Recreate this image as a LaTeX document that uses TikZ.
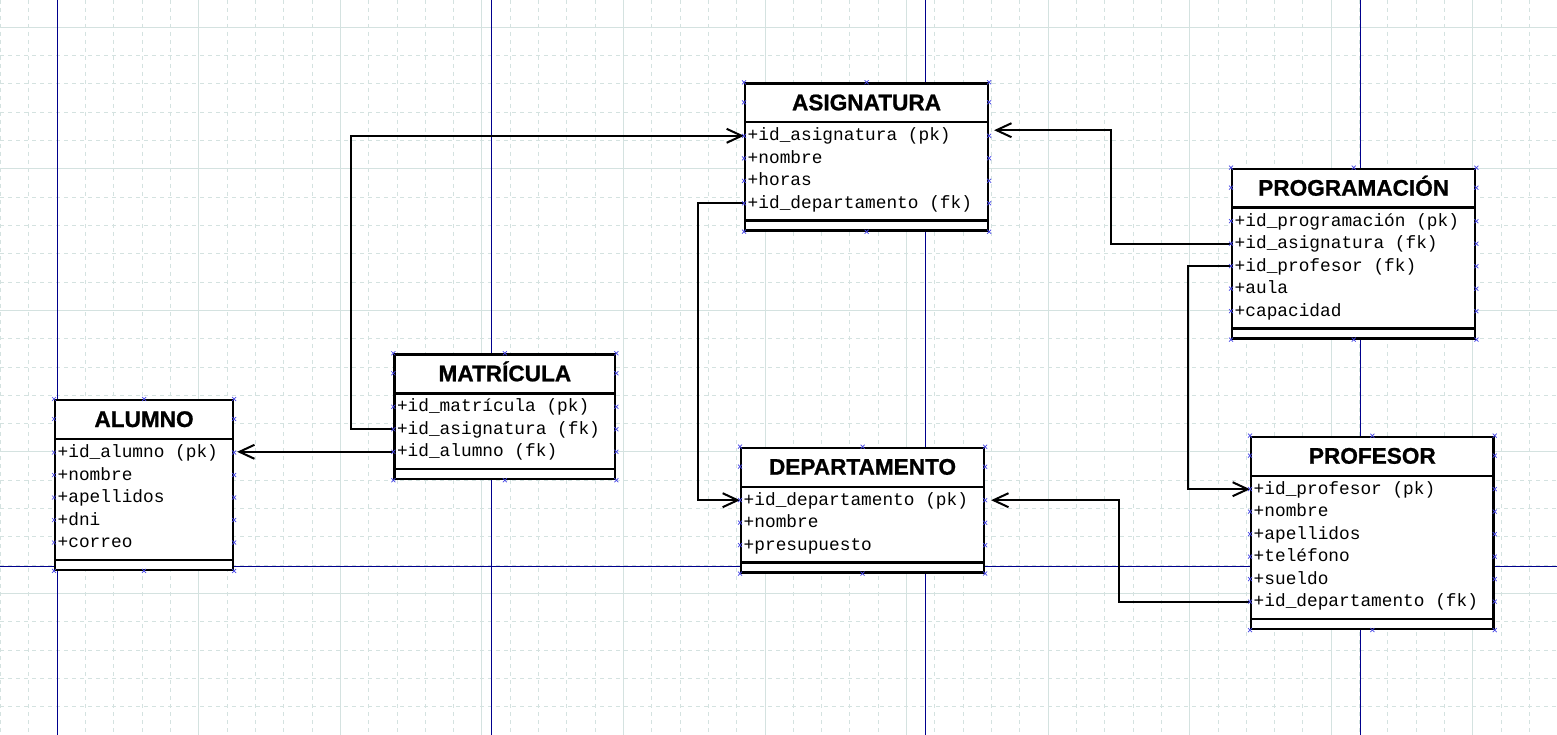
\documentclass[tikz,border=0pt]{standalone}
\usepackage{fontspec}
\usepackage{xcolor}
\usepackage{tikz}
\usetikzlibrary{arrows.meta}
\newfontfamily\titlefamily{Liberation Sans}[BoldFeatures={FakeBold=0.9}]
\newfontfamily\monofamily{Liberation Mono}
\definecolor{gridline}{RGB}{212,226,224}
\definecolor{pageline}{RGB}{0,0,140}
\definecolor{handle}{RGB}{70,70,230}

\begin{document}
\begin{tikzpicture}[x=1pt,y=-1pt,
	minor/.style={gridline,line width=1pt,dash pattern=on 4pt off 4pt},
	major/.style={gridline,line width=1pt},
	page/.style={pageline,line width=1pt},
	box/.style={draw,fill=white,line width=2.4pt,anchor=north west,inner sep=0pt},
	sep/.style={line width=2.4pt},
	head/.style={font=\titlefamily\bfseries\fontsize{22.6}{26}\selectfont,anchor=base,inner sep=0pt},
	attr/.style={font=\monofamily\fontsize{17.8}{20}\selectfont,anchor=west,inner xsep=3.5pt,inner ysep=0pt,text height=12pt,text depth=2pt},
	link/.style={line width=2pt,-{Straight Barb[length=15pt,width=14pt]}},
	hdl/.style={handle,line width=0.7pt}]
\useasboundingbox (0,0) rectangle (1557,735);
\fill[white] (0,0) rectangle (1557,735);

% grid
\foreach \a in {0,...,54}{
	\draw[minor] (0.68+28.31*\a,0)--(0.68+28.31*\a,735);
}
\foreach \a in {0,...,24}{
	\draw[minor] (0,27.3+28.31*\a)--(1557,27.3+28.31*\a);
}
\foreach \a in {0,...,10}{
	\draw[major] (57.3+141.55*\a,0)--(57.3+141.55*\a,735);
}
\foreach \a in {0,...,4}{
	\draw[major] (0,27.3+141.55*\a)--(1557,27.3+141.55*\a);
}

% page borders
\foreach \a in {57.5,491.5,925.5,1360.5}{
	\draw[page] (\a,0)--(\a,735);
}
\draw[page] (0,566.5)--(1557,566.5);

% ASIGNATURA
\node[box,minimum width=242.7pt,minimum height=147pt] (asig) at (744,82.3) {};
\node[head] (asig-t) at ([yshift=-28pt]asig.north) {ASIGNATURA};
\draw[sep] ([yshift=-40pt]asig.north west)--([yshift=-40pt]asig.north east);
\draw[sep] ([yshift=11pt]asig.south west)--([yshift=11pt]asig.south east);
\foreach \t [count=\i] in {+id\_asignatura (pk),+nombre,+horas,+id\_departamento (fk)}{
	\node[attr] (asig-\i) at ([yshift={-(31+22.5*\i)*1pt}]asig.north west) {\t};
}

% PROGRAMACION
\node[box,minimum width=243pt,minimum height=169.5pt] (prog) at (1231,167.7) {};
\node[head] (prog-t) at ([yshift=-28pt]prog.north) {PROGRAMACIÓN};
\draw[sep] ([yshift=-40pt]prog.north west)--([yshift=-40pt]prog.north east);
\draw[sep] ([yshift=11pt]prog.south west)--([yshift=11pt]prog.south east);
\foreach \t [count=\i] in {+id\_programación (pk),+id\_asignatura (fk),+id\_profesor (fk),+aula,+capacidad}{
	\node[attr] (prog-\i) at ([yshift={-(31+22.5*\i)*1pt}]prog.north west) {\t};
}

% MATRICULA
\node[box,minimum width=220.7pt,minimum height=124.5pt] (matr) at (393.3,353.3) {};
\node[head] (matr-t) at ([yshift=-28pt]matr.north) {MATRÍCULA};
\draw[sep] ([yshift=-40pt]matr.north west)--([yshift=-40pt]matr.north east);
\draw[sep] ([yshift=11pt]matr.south west)--([yshift=11pt]matr.south east);
\foreach \t [count=\i] in {+id\_matrícula (pk),+id\_asignatura (fk),+id\_alumno (fk)}{
	\node[attr] (matr-\i) at ([yshift={-(31+22.5*\i)*1pt}]matr.north west) {\t};
}

% ALUMNO
\node[box,minimum width=177.7pt,minimum height=169.5pt] (alum) at (54,399) {};
\node[head] (alum-t) at ([yshift=-28pt]alum.north) {ALUMNO};
\draw[sep] ([yshift=-40pt]alum.north west)--([yshift=-40pt]alum.north east);
\draw[sep] ([yshift=11pt]alum.south west)--([yshift=11pt]alum.south east);
\foreach \t [count=\i] in {+id\_alumno (pk),+nombre,+apellidos,+dni,+correo}{
	\node[attr] (alum-\i) at ([yshift={-(31+22.5*\i)*1pt}]alum.north west) {\t};
}

% DEPARTAMENTO
\node[box,minimum width=242.7pt,minimum height=124.5pt] (dept) at (740,446.7) {};
\node[head] (dept-t) at ([yshift=-28pt]dept.north) {DEPARTAMENTO};
\draw[sep] ([yshift=-40pt]dept.north west)--([yshift=-40pt]dept.north east);
\draw[sep] ([yshift=11pt]dept.south west)--([yshift=11pt]dept.south east);
\foreach \t [count=\i] in {+id\_departamento (pk),+nombre,+presupuesto}{
	\node[attr] (dept-\i) at ([yshift={-(31+22.5*\i)*1pt}]dept.north west) {\t};
}

% PROFESOR
\node[box,minimum width=242.3pt,minimum height=192pt] (prof) at (1250,435.7) {};
\node[head] (prof-t) at ([yshift=-28pt]prof.north) {PROFESOR};
\draw[sep] ([yshift=-40pt]prof.north west)--([yshift=-40pt]prof.north east);
\draw[sep] ([yshift=11pt]prof.south west)--([yshift=11pt]prof.south east);
\foreach \t [count=\i] in {+id\_profesor (pk),+nombre,+apellidos,+teléfono,+sueldo,+id\_departamento (fk)}{
	\node[attr] (prof-\i) at ([yshift={-(31+22.5*\i)*1pt}]prof.north west) {\t};
}

% relations
\draw[link] (matr-2.west)--++(-42,0) |- (asig-1.west);
\draw[link,shorten >=3pt] (matr-3.west)--(matr-3.west -| alum.east);
\draw[link] (asig-4.west)--++(-46,0) |- (dept-1.west);
\draw[link,shorten >=5pt] (prog-2.west)--++(-120,0) |- ([yshift=26.8pt]asig.east);
\draw[link] (prog-3.west)--++(-43,0) |- (prof-1.west);
\draw[link,shorten >=6pt] (prof-6.west)--++(-131,0) |- (dept-1.west -| dept.east);

% selection handles
\foreach \b/\n in {asig/4,prog/5,matr/3,alum/5,dept/3,prof/6}{
	\foreach \p in {north west,north,north east,south west,south,south east}{
		\draw[hdl] (\b.\p) +(-2,-2)--+(2,2) +(-2,2)--+(2,-2);
	}
	\draw[hdl] ([yshift=-20pt]\b.north west) +(-2,-2)--+(2,2) +(-2,2)--+(2,-2);
	\draw[hdl] ([yshift=-20pt]\b.north east) +(-2,-2)--+(2,2) +(-2,2)--+(2,-2);
	\foreach \i in {1,...,\n}{
		\draw[hdl] (\b-\i.west) +(-2,-2)--+(2,2) +(-2,2)--+(2,-2);
		\draw[hdl] (\b-\i.west -| \b.east) +(-2,-2)--+(2,2) +(-2,2)--+(2,-2);
	}
}

\end{tikzpicture}
\end{document}
